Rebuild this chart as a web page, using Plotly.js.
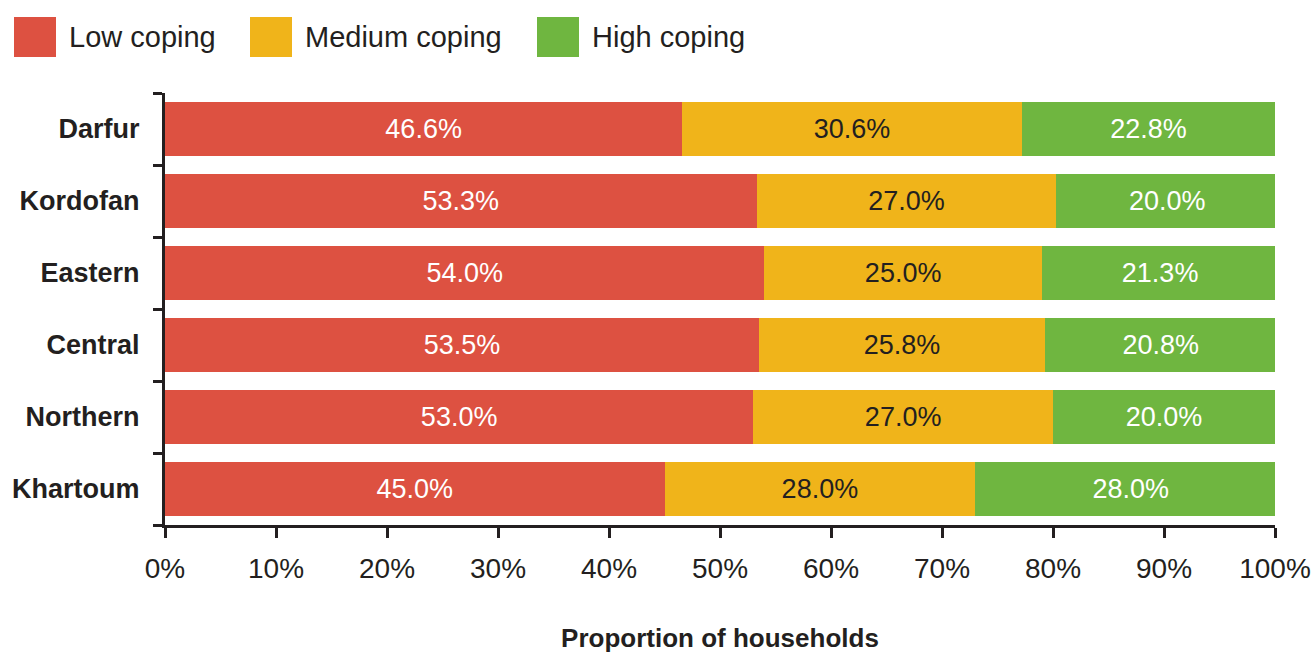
<!DOCTYPE html>
<html>
<head>
<meta charset="utf-8">
<script src="https://cdn.plot.ly/plotly-3.0.1.min.js"></script>
<style>
  html, body { margin: 0; padding: 0; background: #fff; }
  #chart { width: 1312px; height: 654px; }
</style>
</head>
<body>
<div id="chart"></div>
<script>
// regions, listed top to bottom as in the picture
var regions = ["Darfur", "Kordofan", "Eastern", "Central", "Northern", "Khartoum"];

// share of households per coping level (%)
var lowCoping    = [46.6, 53.3, 54.0, 53.5, 53.0, 45.0];
var mediumCoping = [30.6, 27.0, 25.0, 25.8, 27.0, 28.0];
var highCoping   = [22.8, 20.0, 21.3, 20.8, 20.0, 28.0];

var seriesNames  = ["Low coping", "Medium coping", "High coping"];
var seriesColors = ["#DD5141", "#F0B41A", "#6FB640"];
var textColors   = ["#ffffff", "#231f20", "#ffffff"];

var xTicks = [0, 10, 20, 30, 40, 50, 60, 70, 80, 90, 100];

var fontName = "'Liberation Sans Narrow', 'Arial Narrow', 'Liberation Sans', sans-serif";

// one trace per coping level
var allValues = [lowCoping, mediumCoping, highCoping];
var traces = allValues.map(function (vals, i) {
    return {
        type: "bar",
        orientation: "h",
        name: seriesNames[i],
        y: regions,
        x: vals,
        text: vals.map(function (v) { return v.toFixed(1) + "%"; }),
        textposition: "inside",
        insidetextanchor: "middle",
        textfont: {family: fontName, size: 27, color: textColors[i]},
        marker: {color: seriesColors[i], line: {width: 0}},
        hoverinfo: "skip",
        showlegend: false
    };
});

// plot area edges in pixels (used to place the legend boxes)
var L = 165, R = 1275, T = 93, B = 525;
function px(x) { return (x - L) / (R - L); }
function py(y) { return (B - y) / (B - T); }

// big square legend swatches like the original
var legendX = [14, 250, 537];
var shapes = [];
var annotations = [];
seriesNames.forEach(function (name, i) {
    shapes.push({
        type: "rect", xref: "paper", yref: "paper",
        x0: px(legendX[i]), x1: px(legendX[i] + 42),
        y0: py(57), y1: py(17),
        fillcolor: seriesColors[i], line: {width: 0}
    });
    annotations.push({
        xref: "paper", yref: "paper",
        x: px(legendX[i] + 53), y: py(37),
        xanchor: "left", yanchor: "middle",
        text: name, showarrow: false,
        font: {family: fontName, size: 29, color: "#231f20"}
    });
});

var layout = {
    width: 1312,
    height: 654,
    margin: {l: L, r: 1312 - R, t: T, b: 654 - B},
    paper_bgcolor: "#ffffff",
    plot_bgcolor: "#ffffff",
    barmode: "stack",
    bargap: 0.25,
    font: {family: fontName, color: "#231f20"},
    xaxis: {
        range: [0, 100],
        tickvals: xTicks,
        ticktext: xTicks.map(function (t) { return t + "%"; }),
        ticks: "outside",
        ticklen: 10,
        tickwidth: 3,
        tickcolor: "#231f20",
        showline: true,
        linewidth: 3,
        linecolor: "#231f20",
        showgrid: false,
        zeroline: false,
        tickfont: {family: fontName, size: 28, color: "#231f20"},
        ticklabelstandoff: 6,
        title: {
            text: "<b>Proportion of households</b>",
            font: {family: fontName, size: 26, color: "#231f20"},
            standoff: 47
        },
        fixedrange: true
    },
    yaxis: {
        autorange: "reversed",
        ticks: "outside",
        tickson: "boundaries",
        ticklen: 9,
        tickwidth: 3,
        tickcolor: "#231f20",
        showline: true,
        linewidth: 3,
        linecolor: "#231f20",
        showgrid: false,
        tickfont: {family: fontName, size: 27, color: "#231f20"},
        ticklabelstandoff: 17,
        fixedrange: true
    },
    shapes: shapes,
    annotations: annotations,
    showlegend: false
};

// bold category labels
layout.yaxis.tickvals = regions;
layout.yaxis.ticktext = regions.map(function (r) { return "<b>" + r + "</b>"; });

Plotly.newPlot("chart", traces, layout, {displayModeBar: false, staticPlot: true});
</script>
</body>
</html>
